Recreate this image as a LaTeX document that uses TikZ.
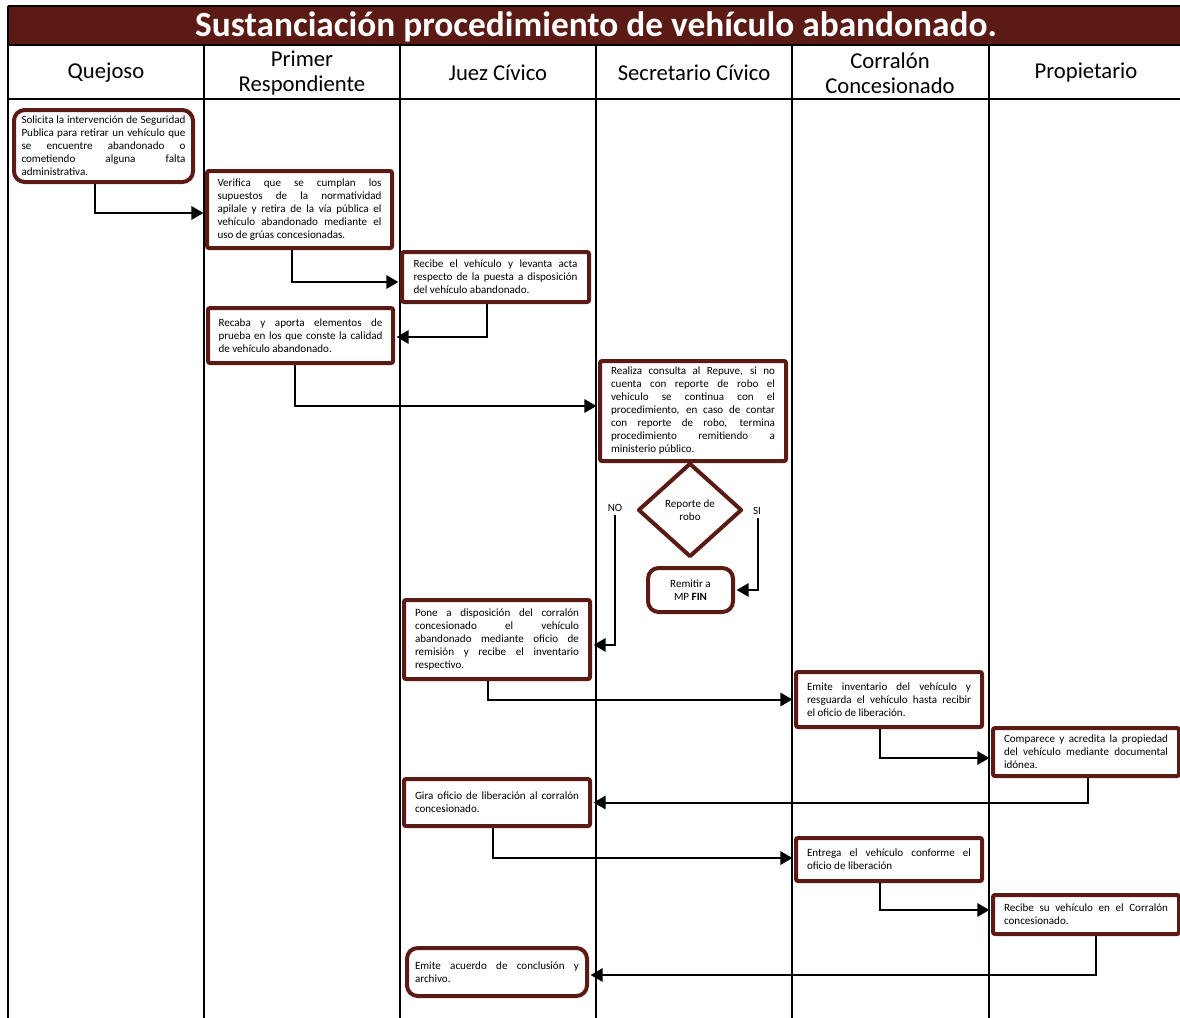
\documentclass[tikz,border=0pt]{standalone}
\usepackage{fontspec}
\setmainfont{Carlito}
\usetikzlibrary{shapes.geometric,arrows.meta,calc}
\definecolor{maroon}{RGB}{92,26,21}
\newcommand{\jl}[1]{\makebox[123pt][s]{#1}}
\newcommand{\bt}[1]{\parbox{123pt}{#1}}
\newcommand{\boxfont}{\fontsize{8.3}{9.75}\selectfont}
\begin{document}
\begin{tikzpicture}[x=0.75pt,y=-0.75pt,
  box/.style={draw=maroon, line width=3pt, fill=white, inner sep=0pt, font=\boxfont, rounded corners=1.5pt},
  rbox/.style={box, rounded corners=8pt},
  arr/.style={line width=1.5pt, -{Triangle[length=9pt,width=10pt]}, shorten >=1.2pt},
  grid/.style={line width=1.5pt, black},
  hdr/.style={font=\fontsize{17}{18.75}\selectfont, align=center},
  lbl/.style={font=\boxfont, inner sep=0pt}]
\useasboundingbox (0,0) rectangle (1180,1017);
% title bar
\fill[maroon] (8,6) rectangle (1182,45);
\draw[grid] (8,6) -- (1182,6);
\draw[grid] (8,45) -- (1182,45);
\node[text=white, font=\fontsize{26.5}{28}\bfseries] (title) at (596,27) {Sustanciación procedimiento de vehículo abandonado.};
% grid
\draw[grid] (8,6) -- (8,1019);
\draw[grid] (8,99) -- (1182,99);
\foreach \cx in {204,400,596,792,989} \draw[grid] (\cx,45) -- (\cx,1019);
% headers
\node[hdr] (h1) at (106,73) {Quejoso};
\node[hdr] (h2) at (302,73) {Primer\\Respondiente};
\node[hdr] (h3) at (498,73) {Juez Cívico};
\node[hdr] (h4) at (694,73) {Secretario Cívico};
\node[hdr] (h5) at (890,73) {Corralón\\Concesionado};
\node[hdr] (h6) at (1086,73) {Propietario};
% boxes
\node[rbox, minimum width={179*0.75pt}, minimum height={72*0.75pt}] (sol) at (103.5,146) {\bt{\jl{Solicita la intervención de Seguridad}\\\jl{Publica para retirar un vehículo que}\\\jl{se encuentre abandonado o}\\\jl{cometiendo alguna falta}\\administrativa.}};
\node[box, minimum width={185*0.75pt}, minimum height={77*0.75pt}] (ver) at (299.5,209.5) {\bt{\jl{Verifica que se cumplan los}\\\jl{supuestos de la normatividad}\\\jl{apilale y retira de la vía pública el}\\\jl{vehículo abandonado mediante el}\\uso de grúas concesionadas.}};
\node[box, minimum width={187*0.75pt}, minimum height={50*0.75pt}] (rec) at (495.5,277) {\bt{\jl{Recibe el vehículo y levanta acta}\\\jl{respecto de la puesta a disposición}\\del vehículo abandonado.}};
\node[box, minimum width={185*0.75pt}, minimum height={55*0.75pt}] (reca) at (300.5,335.5) {\bt{\jl{Recaba y aporta elementos de}\\\jl{prueba en los que conste la calidad}\\de vehículo abandonado.}};
\node[box, minimum width={186*0.75pt}, minimum height={100*0.75pt}] (real) at (693,411) {\bt{\jl{Realiza consulta al Repuve, si no}\\\jl{cuenta con reporte de robo el}\\\jl{vehículo se continua con el}\\\jl{procedimiento, en caso de contar}\\\jl{con reporte de robo, termina}\\\jl{procedimiento remitiendo a}\\ministerio público.}};
\node[diamond, draw=maroon, line width=3pt, line join=round, fill=white, inner sep=0pt, minimum width={104*0.75pt}, minimum height={94*0.75pt}, font=\boxfont, align=center] (dia) at (690,510) {Reporte de\\robo};
\node[rbox, minimum width={85*0.75pt}, minimum height={44*0.75pt}, align=center] (rem) at (690.5,590) {Remitir a\\MP \textbf{FIN}};
\node[box, minimum width={186*0.75pt}, minimum height={79*0.75pt}] (pon) at (497,639.5) {\bt{\jl{Pone a disposición del corralón}\\\jl{concesionado el vehículo}\\\jl{abandonado mediante oficio de}\\\jl{remisión y recibe el inventario}\\respectivo.}};
\node[box, minimum width={186*0.75pt}, minimum height={55*0.75pt}] (emi) at (889,699.5) {\bt{\jl{Emite inventario del vehículo y}\\\jl{resguarda el vehículo hasta recibir}\\el oficio de liberación.}};
\node[box, minimum width={186*0.75pt}, minimum height={48*0.75pt}] (com) at (1086,752) {\bt{\jl{Comparece y acredita la propiedad}\\\jl{del vehículo mediante documental}\\idónea.}};
\node[box, minimum width={186*0.75pt}, minimum height={47*0.75pt}] (gir) at (497,802.5) {\bt{\jl{Gira oficio de liberación al corralón}\\concesionado.}};
\node[box, minimum width={186*0.75pt}, minimum height={43*0.75pt}] (ent) at (889,859.5) {\bt{\jl{Entrega el vehículo conforme el}\\oficio de liberación}};
\node[box, minimum width={186*0.75pt}, minimum height={39*0.75pt}] (rsv) at (1086,914.5) {\bt{\jl{Recibe su vehículo en el Corralón}\\concesionado.}};
\node[rbox, minimum width={180*0.75pt}, minimum height={48*0.75pt}] (acu) at (497,972) {\bt{\jl{Emite acuerdo de conclusión y}\\archivo.}};
% labels
\node[lbl] (no) at (615,508) {NO};
\node[lbl] (si) at (757,511) {SI};
% connectors
\draw[arr] ([xshift=-6.4pt]sol.south) |- ([yshift=-2.6pt]ver.west);
\draw[arr] ([xshift=-5.6pt]ver.south) |- ([yshift=-3.75pt]rec.west);
\draw[arr] ([xshift=-6.4pt]rec.south) |- ([yshift=-1.1pt]reca.east);
\draw[arr] ([xshift=-4.1pt]reca.south) |- ([yshift=3.75pt]real.west);
\draw[arr] ([yshift=-2pt]no.south) |- ([yshift=-4.1pt]pon.east);
\draw[arr] ([yshift=-2pt,xshift=0.75pt]si.south) |- (rem.east);
\draw[arr] ([xshift=-6.75pt]pon.south) |- (emi.west);
\draw[arr] ([xshift=-6.75pt]emi.south) |- ([yshift=-4.5pt]com.west);
\draw[arr] ([xshift=1.5pt]com.south) |- (gir.east);
\draw[arr] ([xshift=-3pt]gir.south) |- ([yshift=1.1pt]ent.west);
\draw[arr] ([xshift=-6.75pt]ent.south) |- ([yshift=3.4pt]rsv.west);
\draw[arr] ([xshift=7.5pt]rsv.south) |- ([yshift=-2.25pt]acu.east);
\end{tikzpicture}
\end{document}
